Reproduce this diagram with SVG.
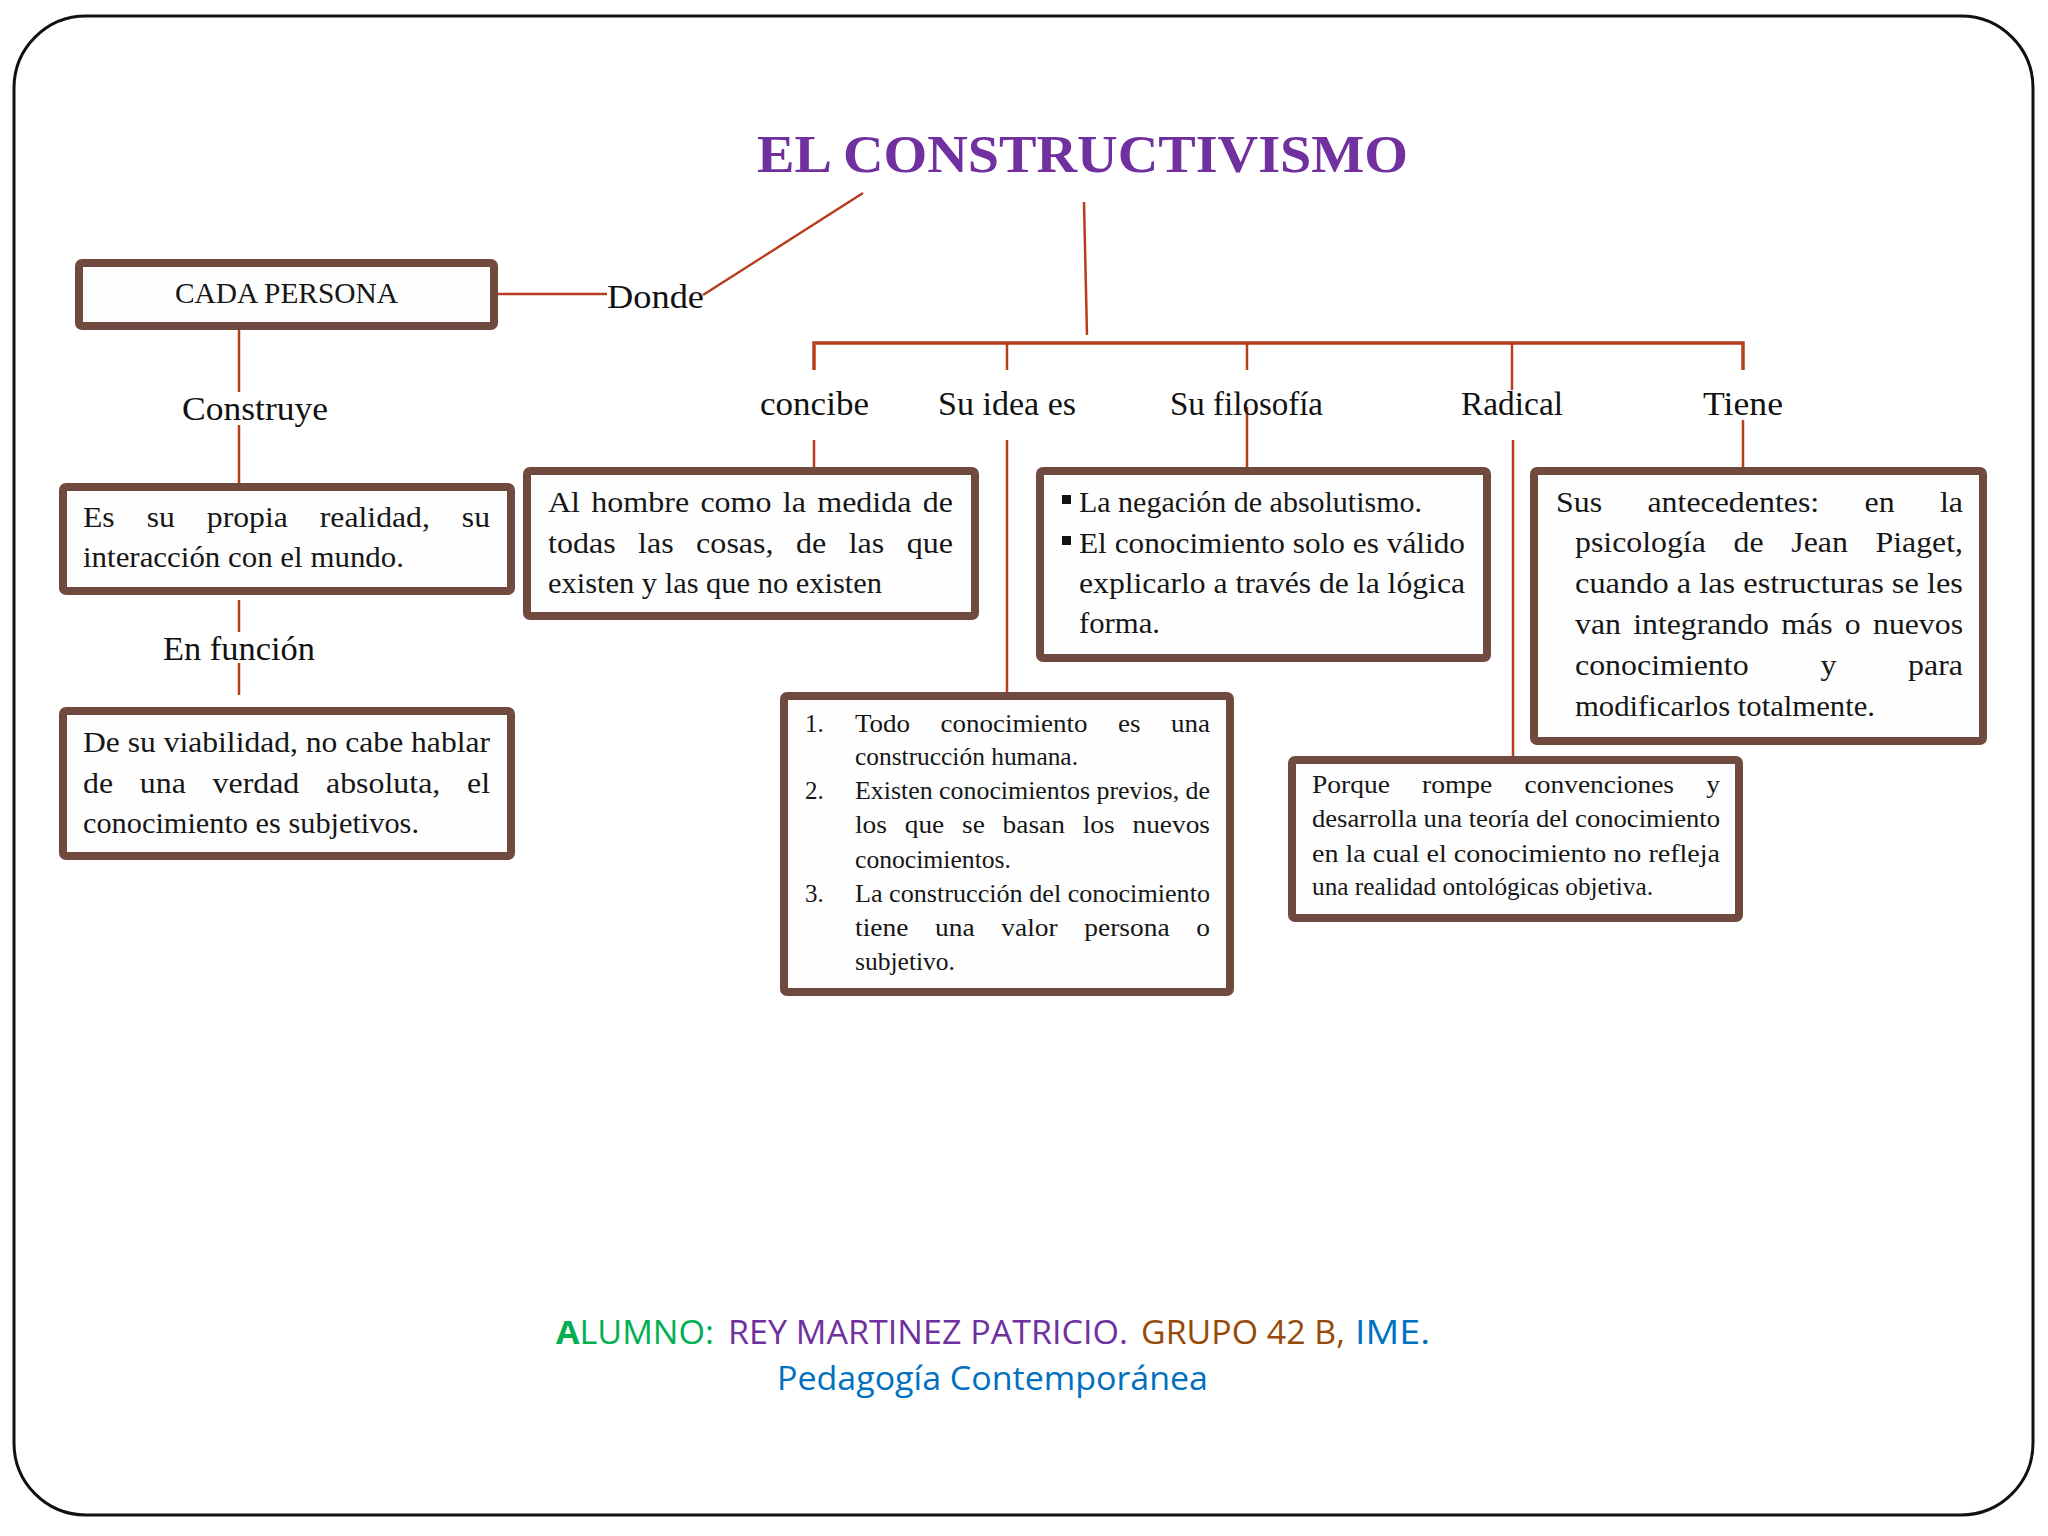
<svg xmlns="http://www.w3.org/2000/svg" width="2048" height="1536" viewBox="0 0 2048 1536">
<style>
.frame{fill:#ffffff;stroke:#111;stroke-width:3}
.box{fill:#fefefe;stroke:#714a3f;stroke-width:8}
.c{fill:none;stroke:#b73d1c;stroke-width:2.5}
.bar{fill:none;stroke:#b73d1c;stroke-width:3.5}
.t{font-family:"Liberation Serif","Times New Roman",serif;font-size:29px;fill:#161616}
.s{font-family:"Liberation Serif","Times New Roman",serif;font-size:25px;fill:#161616}
.l{font-family:"Liberation Serif","Times New Roman",serif;font-size:33px;fill:#111}
.title{font-family:"Liberation Serif","Times New Roman",serif;font-size:53px;font-weight:bold;fill:#7030a0}
.f{font-family:"Open Sans","Liberation Sans",sans-serif;font-size:33px}
</style>
<rect class="frame" x="14" y="16" width="2019" height="1499" rx="72" ry="72"/>

<g id="title">
<text class="title" x="757" y="172" textLength="651" lengthAdjust="spacingAndGlyphs">EL CONSTRUCTIVISMO</text>
</g>

<g id="connectors">
<line class="c" x1="863" y1="193" x2="703" y2="295"/>
<line class="c" x1="498" y1="294" x2="607" y2="294"/>
<line class="c" x1="1084" y1="202" x2="1087" y2="335"/>
<polyline class="bar" points="814,370 814,343 1743,343 1743,370"/>
<line class="c" x1="1007" y1="343" x2="1007" y2="370"/>
<line class="c" x1="1247" y1="343" x2="1247" y2="370"/>
<line class="c" x1="1512" y1="343" x2="1512" y2="390"/>
<line class="c" x1="814" y1="440" x2="814" y2="468"/>
<line class="c" x1="1007" y1="440" x2="1007" y2="692"/>
<line class="c" x1="1247" y1="407" x2="1247" y2="468"/>
<line class="c" x1="1513" y1="440" x2="1513" y2="757"/>
<line class="c" x1="1743" y1="420" x2="1743" y2="468"/>
<line class="c" x1="239" y1="330" x2="239" y2="392"/>
<line class="c" x1="239" y1="425" x2="239" y2="484"/>
<line class="c" x1="239" y1="600" x2="239" y2="632"/>
<line class="c" x1="239" y1="663" x2="239" y2="695"/>
</g>

<g id="labels">
<text class="l" x="607" y="308" textLength="97" lengthAdjust="spacingAndGlyphs">Donde</text>
<text class="l" x="182" y="420" textLength="146" lengthAdjust="spacingAndGlyphs">Construye</text>
<text class="l" x="163" y="660" textLength="152" lengthAdjust="spacingAndGlyphs">En función</text>
<text class="l" x="760" y="415" textLength="109" lengthAdjust="spacingAndGlyphs">concibe</text>
<text class="l" x="938" y="415" textLength="138" lengthAdjust="spacingAndGlyphs">Su idea es</text>
<text class="l" x="1170" y="415" textLength="153" lengthAdjust="spacingAndGlyphs">Su filosofía</text>
<text class="l" x="1461" y="415" textLength="102" lengthAdjust="spacingAndGlyphs">Radical</text>
<text class="l" x="1703" y="415" textLength="80" lengthAdjust="spacingAndGlyphs">Tiene</text>
</g>

<g id="node-cada-persona">
<rect class="box" x="79" y="263" width="415" height="63" rx="3"/>
<text class="t" x="175" y="303" font-size="28" textLength="223" lengthAdjust="spacingAndGlyphs">CADA PERSONA</text>
</g>

<g id="node-realidad">
<rect class="box" x="63" y="487" width="448" height="104" rx="3"/>
<text class="t" x="83" y="527" word-spacing="22" textLength="407" lengthAdjust="spacingAndGlyphs">Es su propia realidad, su</text>
<text class="t" x="83" y="567" textLength="321" lengthAdjust="spacingAndGlyphs">interacción con el mundo.</text>
</g>

<g id="node-viabilidad">
<rect class="box" x="63" y="711" width="448" height="145" rx="3"/>
<text class="t" x="83" y="752" textLength="407" lengthAdjust="spacingAndGlyphs">De su viabilidad, no cabe hablar</text>
<text class="t" x="83" y="793" word-spacing="17" textLength="407" lengthAdjust="spacingAndGlyphs">de una verdad absoluta, el</text>
<text class="t" x="83" y="833" textLength="336" lengthAdjust="spacingAndGlyphs">conocimiento es subjetivos.</text>
</g>

<g id="node-hombre">
<rect class="box" x="527" y="471" width="448" height="145" rx="3"/>
<text class="t" x="548" y="512" word-spacing="3" textLength="405" lengthAdjust="spacingAndGlyphs">Al hombre como la medida de</text>
<text class="t" x="548" y="553" word-spacing="13" textLength="405" lengthAdjust="spacingAndGlyphs">todas las cosas, de las que</text>
<text class="t" x="548" y="593" textLength="334" lengthAdjust="spacingAndGlyphs">existen y las que no existen</text>
</g>

<g id="node-filosofia">
<rect class="box" x="1040" y="471" width="447" height="187" rx="3"/>
<rect x="1062" y="495" width="9" height="9" fill="#111"/>
<rect x="1062" y="536" width="9" height="9" fill="#111"/>
<text class="t" x="1079" y="512" textLength="343" lengthAdjust="spacingAndGlyphs">La negación de absolutismo.</text>
<text class="t" x="1079" y="553" textLength="386" lengthAdjust="spacingAndGlyphs">El conocimiento solo es válido</text>
<text class="t" x="1079" y="593" textLength="386" lengthAdjust="spacingAndGlyphs">explicarlo a través de la lógica</text>
<text class="t" x="1079" y="633" textLength="81" lengthAdjust="spacingAndGlyphs">forma.</text>
</g>

<g id="node-antecedentes">
<rect class="box" x="1534" y="471" width="449" height="270" rx="3"/>
<text class="t" x="1556" y="512" word-spacing="34" textLength="407" lengthAdjust="spacingAndGlyphs">Sus antecedentes: en la</text>
<text class="t" x="1575" y="552" word-spacing="18" textLength="388" lengthAdjust="spacingAndGlyphs">psicología de Jean Piaget,</text>
<text class="t" x="1575" y="593" textLength="388" lengthAdjust="spacingAndGlyphs">cuando a las estructuras se les</text>
<text class="t" x="1575" y="634" word-spacing="4" textLength="388" lengthAdjust="spacingAndGlyphs">van integrando más o nuevos</text>
<text class="t" x="1575" y="675" word-spacing="58" textLength="388" lengthAdjust="spacingAndGlyphs">conocimiento y para</text>
<text class="t" x="1575" y="716" textLength="300" lengthAdjust="spacingAndGlyphs">modificarlos totalmente.</text>
</g>

<g id="node-idea">
<rect class="box" x="784" y="696" width="446" height="296" rx="3"/>
<text class="s" x="805" y="732">1.</text>
<text class="s" x="855" y="732" word-spacing="22" textLength="355" lengthAdjust="spacingAndGlyphs">Todo conocimiento es una</text>
<text class="s" x="855" y="765" textLength="223" lengthAdjust="spacingAndGlyphs">construcción humana.</text>
<text class="s" x="805" y="799">2.</text>
<text class="s" x="855" y="799" textLength="355" lengthAdjust="spacingAndGlyphs">Existen conocimientos previos, de</text>
<text class="s" x="855" y="833" word-spacing="10" textLength="355" lengthAdjust="spacingAndGlyphs">los que se basan los nuevos</text>
<text class="s" x="855" y="868" textLength="156" lengthAdjust="spacingAndGlyphs">conocimientos.</text>
<text class="s" x="805" y="902">3.</text>
<text class="s" x="855" y="902" textLength="355" lengthAdjust="spacingAndGlyphs">La construcción del conocimiento</text>
<text class="s" x="855" y="936" word-spacing="18" textLength="355" lengthAdjust="spacingAndGlyphs">tiene una valor persona o</text>
<text class="s" x="855" y="970" textLength="100" lengthAdjust="spacingAndGlyphs">subjetivo.</text>
</g>

<g id="node-radical">
<rect class="box" x="1292" y="760" width="447" height="158" rx="3"/>
<text class="s" x="1312" y="793" word-spacing="23" textLength="408" lengthAdjust="spacingAndGlyphs">Porque rompe convenciones y</text>
<text class="s" x="1312" y="827" textLength="408" lengthAdjust="spacingAndGlyphs">desarrolla una teoría del conocimiento</text>
<text class="s" x="1312" y="862" textLength="408" lengthAdjust="spacingAndGlyphs">en la cual el conocimiento no refleja</text>
<text class="s" x="1312" y="895" textLength="341" lengthAdjust="spacingAndGlyphs">una realidad ontológicas objetiva.</text>
</g>

<g id="footer">
<text class="f" x="556" y="1344" fill="#00b050" textLength="158" lengthAdjust="spacingAndGlyphs"><tspan font-weight="bold">A</tspan>LUMNO:</text>
<text class="f" x="728" y="1344" fill="#7030a0" textLength="400" lengthAdjust="spacingAndGlyphs">REY MARTINEZ PATRICIO.</text>
<text class="f" x="1141" y="1344" fill="#984807" textLength="204" lengthAdjust="spacingAndGlyphs">GRUPO 42 B,</text>
<text class="f" x="1355" y="1344" fill="#0070c0" textLength="75" lengthAdjust="spacingAndGlyphs">IME.</text>
<text class="f" x="777" y="1390" fill="#0070c0" textLength="431" lengthAdjust="spacingAndGlyphs">Pedagogía Contemporánea</text>
</g>
</svg>
